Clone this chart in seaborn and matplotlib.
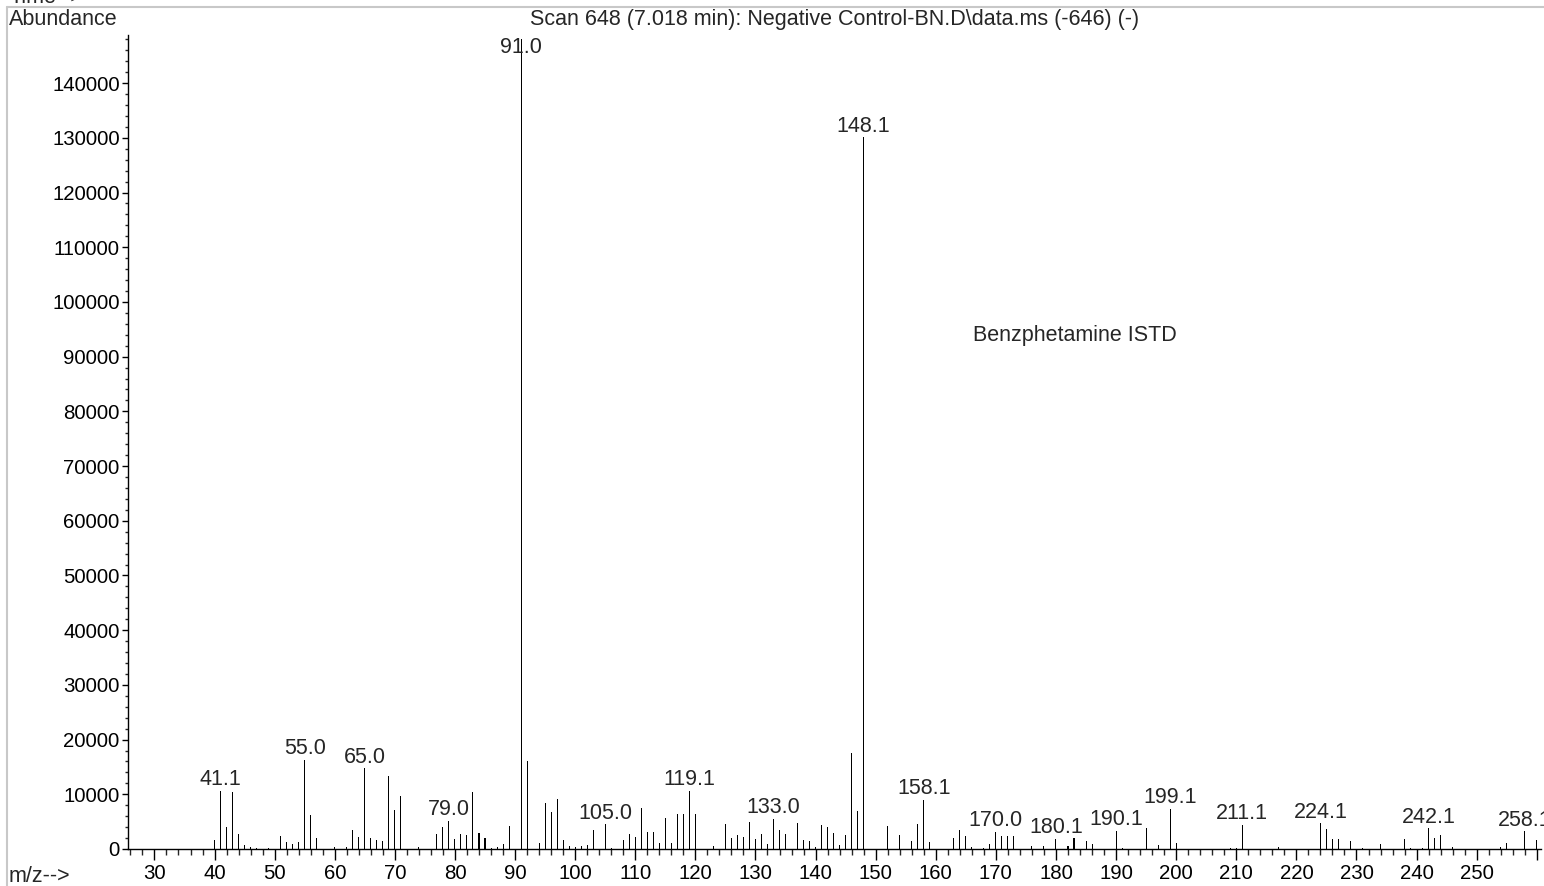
# Mass spectrum - Scan 648, Negative Control-BN.D

import numpy as np
import pandas as pd
import matplotlib
matplotlib.use("Agg")
import matplotlib.pyplot as plt
from matplotlib.lines import Line2D
from matplotlib.ticker import FixedLocator, MultipleLocator
import seaborn as sns

# ==========================================================
# Data
# ==========================================================

mz = [40, 41, 42, 43, 44, 45, 46, 47, 49, 51, 52, 53, 54, 55, 56, 57, 60, 62,
      63, 64, 65, 66, 67, 68, 69, 70, 71, 74, 77, 78, 79, 80, 81, 82, 83, 84,
      85, 86, 87, 88, 89, 91, 92, 94, 95, 96, 97, 98, 99, 100, 101, 102, 103,
      105, 106, 108, 109, 110, 111, 112, 113, 114, 115, 116, 117, 118, 119,
      120, 123, 125, 126, 127, 128, 129, 130, 131, 132, 133, 134, 135, 137,
      138, 139, 140, 141, 142, 143, 144, 145, 146, 147, 148, 152, 154, 156,
      157, 158, 159, 163, 164, 165, 166, 168, 169, 170, 171, 172, 173, 176,
      178, 180, 182, 183, 185, 186, 190, 191, 195, 197, 199, 200, 209, 210,
      211, 217, 224, 225, 226, 227, 229, 231, 234, 238, 239, 241, 242, 243,
      244, 246, 254, 255, 258, 260]

abundance = [1650, 10650, 4080, 10420, 2680, 670, 300, 200, 150, 2320, 1280,
             860, 1340, 16270, 6220, 2010, 400, 300, 3470, 2190, 14750, 2070,
             1590, 1460, 13280, 7130, 9690, 300, 2740, 4080, 5120, 1830, 2740,
             2500, 10360, 2920, 2070, 200, 300, 970, 4200, 148000, 16090, 1040,
             8350, 6700, 9200, 1650, 550, 300, 550, 730, 3470, 4510, 250, 1650,
             2680, 2190, 7440, 3170, 3050, 1160, 5610, 1040, 6340, 6400, 10600,
             6340, 550, 4510, 1950, 2560, 2130, 4940, 1830, 2740, 860, 5480,
             3410, 2740, 4690, 1650, 1460, 350, 4390, 4020, 2980, 670, 2500,
             17550, 6890, 130100, 4260, 2500, 1400, 4570, 8960, 1280, 2010,
             3530, 2320, 400, 250, 860, 3110, 2320, 2320, 2320, 500, 550, 1890,
             500, 2010, 1460, 860, 3290, 200, 3780, 670, 7310, 1100, 150, 250,
             4390, 350, 4690, 3710, 1830, 1830, 1520, 200, 910, 1830, 250, 200,
             3780, 2070, 2500, 300, 350, 1100, 3230, 1650]

label_mz = [41, 55, 65, 79, 91, 105, 119, 133, 148, 158, 170, 180, 190, 199,
            211, 224, 242, 258]
label_text = ["41.1", "55.0", "65.0", "79.0", "91.0", "105.0", "119.1", "133.0",
              "148.1", "158.1", "170.0", "180.1", "190.1", "199.1", "211.1",
              "224.1", "242.1", "258.1"]

y_ticks = list(range(0, 140001, 10000))
x_ticks = list(range(30, 261, 10))
x_tick_labels = [str(v) for v in range(30, 251, 10)] + [""]

df = pd.DataFrame({"mz": mz, "abundance": abundance})
peaks = dict(zip(mz, abundance))

# ==========================================================
# Style
# ==========================================================

sns.set_style("ticks")
plt.rcParams["font.family"] = ["Liberation Sans", "DejaVu Sans"]

text_size = 15.5
tick_size = 14.7

fig = plt.figure(figsize=(15.44, 8.86), dpi=100)
ax = fig.add_axes([128 / 1544, 37 / 886, 1413 / 1544, 814 / 886])

# ==========================================================
# Spectrum sticks
# ==========================================================

sns.barplot(data=df, x="mz", y="abundance", native_scale=True, width=0.17,
            color="black", errorbar=None, linewidth=0, saturation=1, ax=ax)

ymax = 148800
ax.set_xlim(25.6, 260.7)
ax.set_ylim(0, ymax)

# peak labels
for m, txt in zip(label_mz, label_text):
    h = peaks[m]
    y = min(h, 144500)
    ax.annotate(txt, xy=(m, y), xytext=(0, 0.5), textcoords="offset points",
                ha="center", va="bottom", fontsize=text_size,
                annotation_clip=False)

ax.text(166.2, 93800, "Benzphetamine ISTD", ha="left", va="center",
        fontsize=text_size)

# ==========================================================
# Axes
# ==========================================================

ax.xaxis.set_major_locator(FixedLocator(x_ticks))
ax.set_xticklabels(x_tick_labels)
ax.xaxis.set_minor_locator(MultipleLocator(2))
ax.yaxis.set_major_locator(FixedLocator(y_ticks))
ax.set_yticklabels([str(v) for v in y_ticks])
ax.yaxis.set_minor_locator(MultipleLocator(2000))

ax.tick_params(axis="x", which="major", direction="out", length=8, width=1,
               pad=3, labelsize=tick_size, colors="black")
ax.tick_params(axis="x", which="minor", direction="out", length=4, width=1)
ax.tick_params(axis="y", which="major", direction="out", length=4, width=1,
               pad=2, labelsize=tick_size, colors="black")
ax.tick_params(axis="y", which="minor", direction="out", length=2.5, width=1)

ax.set_xlabel("")
ax.set_ylabel("")
sns.despine(ax=ax, top=True, right=True)
for side in ["left", "bottom"]:
    ax.spines[side].set_linewidth(1)
    ax.spines[side].set_color("black")

ax.set_title("Scan 648 (7.018 min): Negative Control-BN.D\\data.ms (-646) (-)",
             fontsize=text_size, pad=7)

# ==========================================================
# Frame texts and lines
# ==========================================================

fig.text(9 / 1544, 1 - 25 / 886, "Abundance", ha="left", va="baseline",
         fontsize=text_size)
fig.text(9 / 1544, 1 - 882 / 886, "m/z-->", ha="left", va="baseline",
         fontsize=text_size)
fig.text(9 / 1544, 1 - 3 / 886, "Time-->", ha="left", va="baseline",
         fontsize=text_size)

fig.add_artist(Line2D([7 / 1544, 1], [1 - 7 / 886, 1 - 7 / 886],
                      transform=fig.transFigure, color="#c8c8c8", lw=1.5))
fig.add_artist(Line2D([7 / 1544, 7 / 1544], [0, 1 - 7 / 886],
                      transform=fig.transFigure, color="#c8c8c8", lw=1.5))

fig.savefig("out.png", dpi=100)
